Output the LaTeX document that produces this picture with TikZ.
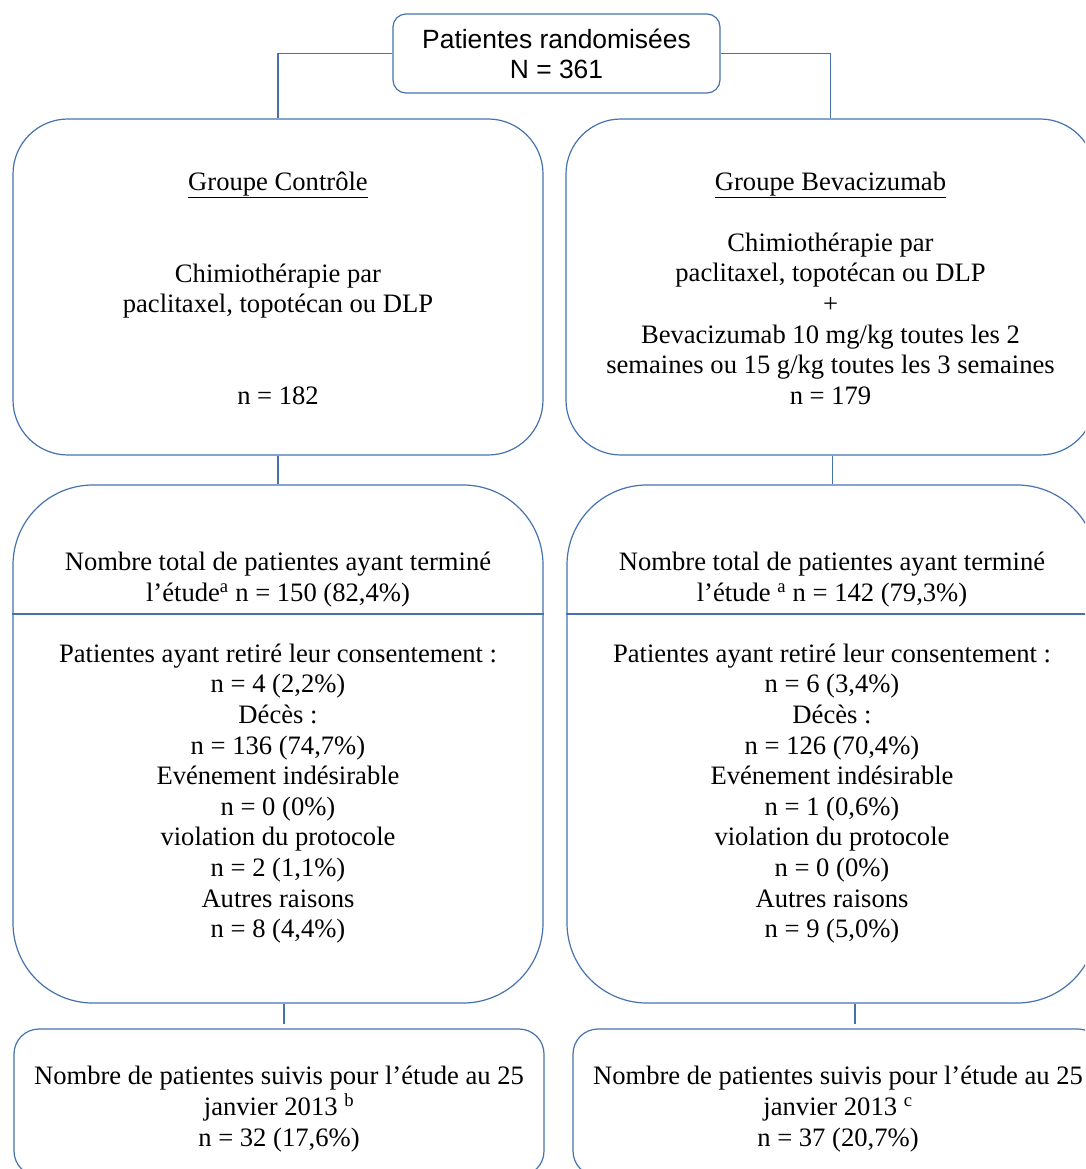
\documentclass[tikz,border=0pt]{standalone}
\usepackage{fontspec}
\setmainfont{Liberation Serif}
\newfontfamily\arialf{Liberation Sans}
\usetikzlibrary{calc}
\definecolor{ln}{RGB}{69,114,172}
\tikzset{
  box/.style={draw=ln, line width=1.2pt, rectangle, inner sep=0pt},
  txt/.style={align=center, inner sep=0pt, text=black, font=\fontsize{26.6}{30.6}\selectfont},
  conn/.style={draw=ln, line width=1.2pt},
}
\begin{document}
\begin{tikzpicture}[x=1pt,y=-1pt]
\useasboundingbox (0,0) rectangle (1085,1169);
\clip (0,0) rectangle (1085,1169);

% top box
\node[box, rounded corners=13pt, minimum width=327pt, minimum height=79pt] (top) at (556.5,53.5) {};
\node[txt, font=\arialf\fontsize{26.4}{30}\selectfont] (toptxt) at (top) {Patientes randomisées\\N = 361};

% group boxes
\node[box, rounded corners=55pt, minimum width=530pt, minimum height=336pt] (gc) at (278,287) {};
\node[box, rounded corners=55pt, minimum width=529pt, minimum height=336pt] (gb) at (830.5,287) {};
\node[txt] (gctxt) at (278,288.5) {\underline{Groupe Contrôle}\\\mbox{}\\\mbox{}\\Chimiothérapie par\\paclitaxel, topotécan ou DLP\\\mbox{}\\\mbox{}\\n = 182};
\node[txt] (gbtxt) at (830.5,288) {\underline{Groupe Bevacizumab}\\\mbox{}\\Chimiothérapie par\\paclitaxel, topotécan ou DLP\\+\\Bevacizumab 10 mg/kg toutes les 2\\semaines ou 15 g/kg toutes les 3 semaines\\n = 179};

% middle boxes
\node[box, rounded corners=80pt, minimum width=530pt, minimum height=518pt] (mc) at (278,744) {};
\node[box, rounded corners=80pt, minimum width=530pt, minimum height=518pt] (mb) at (832,744) {};
\draw[conn] (mc.west |- 0,614) -- (mc.east |- 0,614);
\draw[conn] (mb.west |- 0,614) -- (mb.east |- 0,614);
\node[txt] (mcup) at (278,579.5) {Nombre total de patientes ayant terminé\\l’étude\textsuperscript{a} n = 150 (82,4\%)};
\node[txt] (mbup) at (832,579.5) {Nombre total de patientes ayant terminé\\l’étude \textsuperscript{a} n = 142 (79,3\%)};
\node[txt] (mclow) at (278,793.5) {Patientes ayant retiré leur consentement :\\n = 4 (2,2\%)\\Décès :\\n = 136 (74,7\%)\\Evénement indésirable\\n = 0 (0\%)\\violation du protocole\\n = 2 (1,1\%)\\Autres raisons\\n = 8 (4,4\%)};
\node[txt] (mblow) at (832,793.5) {Patientes ayant retiré leur consentement :\\n = 6 (3,4\%)\\Décès :\\n = 126 (70,4\%)\\Evénement indésirable\\n = 1 (0,6\%)\\violation du protocole\\n = 0 (0\%)\\Autres raisons\\n = 9 (5,0\%)};

% bottom boxes
\node[box, rounded corners=25pt, minimum width=530pt, minimum height=147pt] (bc) at (279,1102.5) {};
\node[box, rounded corners=25pt, minimum width=530pt, minimum height=147pt] (bb) at (838,1102.5) {};
\node[txt] (bctxt) at (279,1109) {Nombre de patientes suivis pour l’étude au 25\\janvier 2013 \textsuperscript{b}\\n = 32 (17,6\%)};
\node[txt] (bbtxt) at (838,1109) {Nombre de patientes suivis pour l’étude au 25\\janvier 2013 \textsuperscript{c}\\n = 37 (20,7\%)};

% connectors
\draw[conn] (top.west) -| (gc.north);
\draw[conn] (top.east) -| (gb.north);
\draw[conn] (gc.south) -- (mc.north);
\draw[conn] (832.5,0 |- gb.south) -- (832.5,0 |- mb.north);
\draw[conn, shorten >=4pt] (284,0 |- mc.south) -- (284,0 |- bc.north);
\draw[conn, shorten >=4pt] (855,0 |- mb.south) -- (855,0 |- bb.north);
\end{tikzpicture}
\end{document}
